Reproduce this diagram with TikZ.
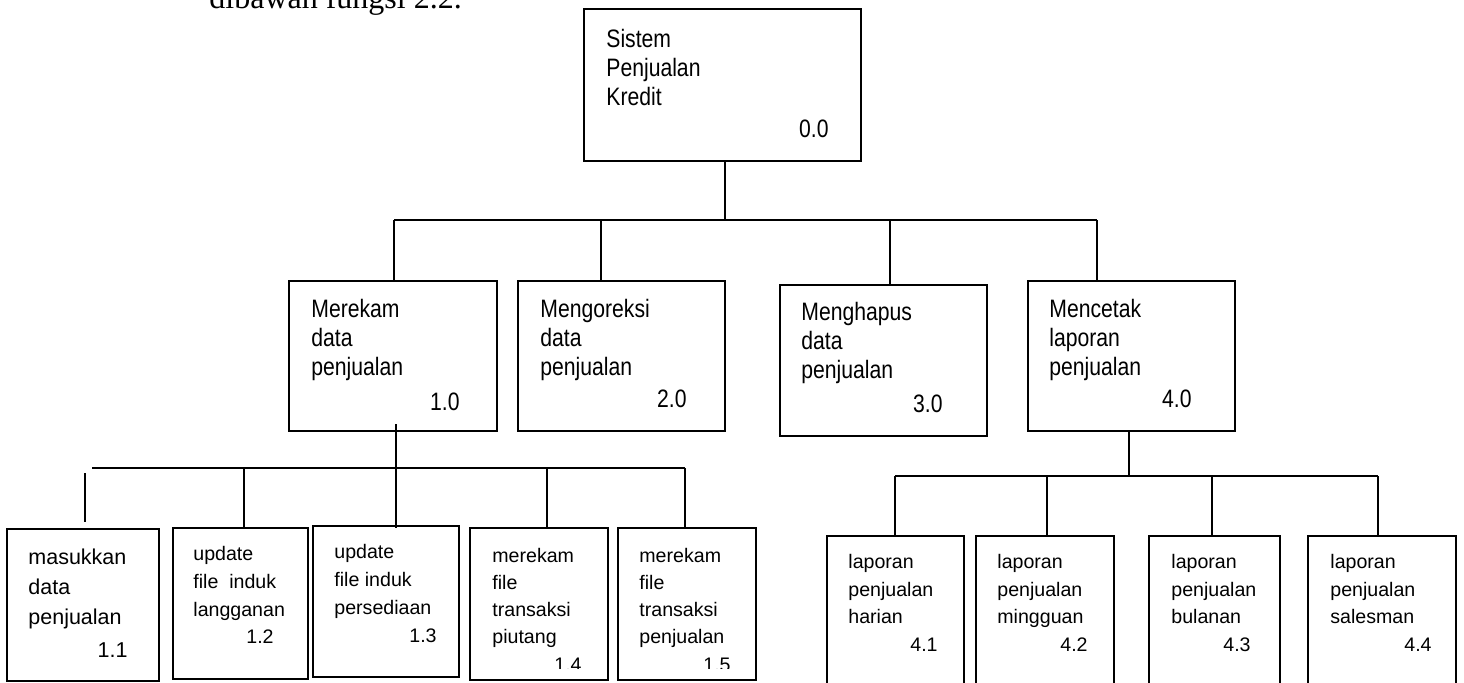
\documentclass[tikz,border=0pt]{standalone}
\usepackage{fontspec}
\setmainfont{Liberation Sans}
\newfontfamily\narrowsans[FakeStretch=0.84]{Liberation Sans}
\newfontfamily\serifface{Liberation Serif}
\usetikzlibrary{fit}
\tikzset{
  box/.style={draw, line width=1.15pt, rectangle, inner sep=0pt},
  conn/.style={line width=1.15pt},
  lbl/.style={anchor=north west, inner sep=0pt, align=left},
  num/.style={anchor=base east, inner sep=0pt},
  fbig/.style={font=\narrowsans\fontsize{12.6}{14.4}\selectfont},
  fmid/.style={font=\fontsize{10.75}{15}\selectfont},
  fsmall/.style={font=\fontsize{9.8}{14}\selectfont},
  fquad/.style={font=\fontsize{9.8}{13.8}\selectfont},
}
\begin{document}
\begin{tikzpicture}[x=0.5pt,y=-0.5pt]
\useasboundingbox (0,0) rectangle (1464,682);

% cut-off caption line at the top
\node[anchor=base west, inner sep=0pt, font=\serifface\fontsize{16}{18}\selectfont] (cap) at (209,8) {dibawah fungsi 2.2.};

% level 0
\node[box, fit={(584,9) (861,161)}] (b00) {};
\node[lbl, fbig] (t00) at (606,29) {Sistem\\Penjualan\\Kredit};
\node[num, fbig] (n00) at (829,137) {0.0};

% level 1
\node[box, fit={(289,281) (497,431)}] (b10) {};
\node[lbl, fbig] (t10) at (311,299) {Merekam\\data\\penjualan};
\node[num, fbig] (n10) at (460,410) {1.0};

\node[box, fit={(518,281) (725,431)}] (b20) {};
\node[lbl, fbig] (t20) at (540,299) {Mengoreksi\\data\\penjualan};
\node[num, fbig] (n20) at (687,407) {2.0};

\node[box, fit={(780,285) (987,436)}] (b30) {};
\node[lbl, fbig] (t30) at (801,302) {Menghapus\\data\\penjualan};
\node[num, fbig] (n30) at (943,412) {3.0};

\node[box, fit={(1028,281) (1235,431)}] (b40) {};
\node[lbl, fbig] (t40) at (1049,299) {Mencetak\\laporan\\penjualan};
\node[num, fbig] (n40) at (1192,407) {4.0};

% level 2 under 1.0
\node[box, fit={(7,529) (159,681)}] (b11) {};
\node[lbl, fmid] (t11) at (28,549) {masukkan\\data\\penjualan};
\node[num, fmid] (n11) at (128,657) {1.1};

\node[box, fit={(173,528) (308,679)}] (b12) {};
\node[lbl, fsmall] (t12) at (193,546) {update\\file~ induk\\langganan};
\node[num, fsmall] (n12) at (274,643) {1.2};

\node[box, fit={(313,526) (459,677)}] (b13) {};
\node[lbl, fsmall] (t13) at (334,544) {update\\file induk\\persediaan};
\node[num, fsmall] (n13) at (437,642) {1.3};

\node[box, fit={(470,528) (608,680)}] (b14) {};
\node[lbl, fsmall, font=\fontsize{9.8}{13.5}\selectfont] (t14) at (492,548) {merekam\\file\\transaksi\\piutang};

\node[box, fit={(618,528) (756,680)}] (b15) {};
\node[lbl, fsmall, font=\fontsize{9.8}{13.5}\selectfont] (t15) at (639,548) {merekam\\file\\transaksi\\penjualan};

\begin{scope}
  \clip (460,600) rectangle (770,668);
  \node[num, fsmall] (n14) at (582,671) {1.4};
  \node[num, fsmall] (n15) at (731,671) {1.5};
\end{scope}

% level 2 under 4.0 (cut by the page bottom)
\node[box, fit={(827,536) (964,720)}] (b41) {};
\node[lbl, fquad] (t41) at (848,554) {laporan\\penjualan\\harian};
\node[num, fquad] (n41) at (938,651) {4.1};

\node[box, fit={(976,536) (1114,720)}] (b42) {};
\node[lbl, fquad] (t42) at (997,554) {laporan\\penjualan\\mingguan};
\node[num, fquad] (n42) at (1088,651) {4.2};

\node[box, fit={(1149,536) (1280,720)}] (b43) {};
\node[lbl, fquad] (t43) at (1171,554) {laporan\\penjualan\\bulanan};
\node[num, fquad] (n43) at (1251,651) {4.3};

\node[box, fit={(1308,536) (1456,720)}] (b44) {};
\node[lbl, fquad] (t44) at (1330,554) {laporan\\penjualan\\salesman};
\node[num, fquad] (n44) at (1432,651) {4.4};

% connectors level 0 -> level 1
\coordinate (busA) at (394,220);
\coordinate (busB) at (1097,220);
\coordinate (j0) at (725,220);
\coordinate (j2) at (601,220);
\coordinate (j3) at (890,220);
\draw[conn] (b00.south -| j0) -- (j0);
\draw[conn] (busA) -- (busB);
\draw[conn] (busA) -- (busA |- b10.north);
\draw[conn] (j2) -- (j2 |- b20.north);
\draw[conn] (j3) -- (j3 |- b30.north);
\draw[conn] (busB) -- (busB |- b40.north);

% connectors 1.0 -> 1.x
\coordinate (busC) at (92,468);
\coordinate (busD) at (685,468);
\coordinate (d1) at (396,424);
\coordinate (j12) at (244,468);
\coordinate (j14) at (547,468);
\coordinate (stubT) at (85,473);
\coordinate (stubB) at (85,522);
\draw[conn] (busC) -- (busD);
\draw[conn] (d1) -- ([yshift=-1.5pt]d1 |- b13.north);
\draw[conn] (j12) -- (j12 |- b12.north);
\draw[conn] (j14) -- (j14 |- b14.north);
\draw[conn] (busD) -- (busD |- b15.north);
\draw[conn] (stubT) -- (stubB);

% connectors 4.0 -> 4.x
\coordinate (busE) at (895,476);
\coordinate (busF) at (1378,476);
\coordinate (j40) at (1129,476);
\coordinate (j42) at (1047,476);
\coordinate (j43) at (1212,476);
\draw[conn] (j40 |- b40.south) -- (j40);
\draw[conn] (busE) -- (busF);
\draw[conn] (busE) -- (busE |- b41.north);
\draw[conn] (j42) -- (j42 |- b42.north);
\draw[conn] (j43) -- (j43 |- b43.north);
\draw[conn] (busF) -- (busF |- b44.north);
\end{tikzpicture}
\end{document}
